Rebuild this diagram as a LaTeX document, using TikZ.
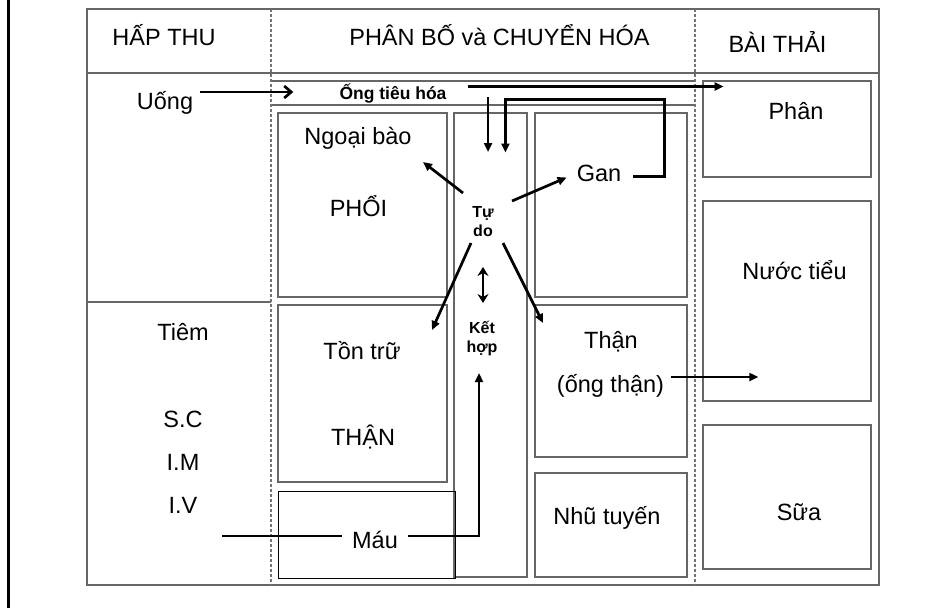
\documentclass[tikz,border=0pt]{standalone}
\usepackage{fontspec}
\setmainfont{Liberation Sans}
\usetikzlibrary{arrows.meta}

\begin{document}
\begin{tikzpicture}[
  x=1pt, y=-1pt,
  box/.style={draw=black!60, line width=1.3pt, inner sep=0pt},
  rule/.style={draw=black!60, line width=1.3pt},
  divider/.style={draw=black!55, line width=1.2pt, dash pattern=on 3pt off 2pt},
  txt/.style={font=\fontsize{23.5}{28}\selectfont, inner sep=0pt, text height=16.8pt, text depth=0pt},
  tag/.style={font=\fontsize{16}{19}\selectfont\bfseries, align=center, inner sep=0pt},
  arr/.style={line width=2.7pt, -{Triangle[length=9pt,width=8pt]}},
  arrv/.style={line width=2.7pt, -{Straight Barb[length=7pt,width=12pt]}},
  arr2/.style={line width=2.7pt, {Stealth[length=9pt,width=11pt,inset=3pt]}-{Stealth[length=9pt,width=11pt,inset=3pt]}},
  ln/.style={line width=2.7pt}
]
  \useasboundingbox (0,0) rectangle (952,608);
  \draw[line width=3pt] (8,0) -- (8,608);

  \node[box, minimum width=792pt, minimum height=576pt] (frame) at (483,297) {};
  \draw[rule] (87,73) -- (879,73);
  \draw[rule] (87,302) -- (271,302);
  \draw[rule] (271,81) -- (695,81);
  \draw[rule] (271,105) -- (695,105);
  \draw[divider] (271,9) -- (271,585);
  \draw[divider] (695,9) -- (695,585);

  \node[box, minimum width=169pt, minimum height=184pt] (phoibox) at (362.5,205) {};
  \node[box, minimum width=73pt, minimum height=464pt] (cot) at (490.5,345) {};
  \node[box, minimum width=152pt, minimum height=184pt] (ganbox) at (611,205) {};
  \node[box, minimum width=169pt, minimum height=177pt] (trubox) at (362.5,393.5) {};
  \node[box, draw=black, line width=1pt, minimum width=177pt, minimum height=87pt] (maubox) at (366.5,534.5) {};
  \node[box, minimum width=152pt, minimum height=152pt] (thanbox) at (611,381) {};
  \node[box, minimum width=152pt, minimum height=104pt] (nhubox) at (611,525) {};
  \node[box, minimum width=168pt, minimum height=96pt] (phanbox) at (787,129) {};
  \node[box, minimum width=168pt, minimum height=200pt] (nuocbox) at (787,301) {};
  \node[box, minimum width=168pt, minimum height=144pt] (suabox) at (787,497) {};

  \node[txt] (hap) at (164,37) {HẤP THU};
  \node[txt] (phanbo) at (499.5,37) {PHÂN BỐ và CHUYỂN HÓA};
  \node[txt] (bai) at (777.5,44) {BÀI THẢI};
  \node[txt] (uong) at (165,101) {Uống};
  \node[tag, font=\fontsize{17.5}{20}\selectfont\bfseries, text height=12.6pt, text depth=0pt] (ong) at (393,93.5) {Ống tiêu hóa};
  \node[txt] (ngoai) at (358,136) {Ngoại bào};
  \node[txt] (phoi) at (358.5,208) {PHỔI};
  \node[tag] (tudo) at (483,222) {Tự\\do};
  \node[txt] (gan) at (599,173.5) {Gan};
  \node[txt] (tiem) at (183,332) {Tiêm};
  \node[txt] (sc) at (183,419) {S.C};
  \node[txt] (im) at (183,462) {I.M};
  \node[txt] (iv) at (183,505) {I.V};
  \node[txt] (tontru) at (362,351.5) {Tồn trữ};
  \node[txt] (thanL) at (363,437) {THẬN};
  \node[tag] (kethop) at (482,339) {Kết\\hợp};
  \node[txt] (than) at (611,340.5) {Thận};
  \node[txt] (ongthan) at (610.5,384) {(ống thận)};
  \node[txt] (mau) at (375,540) {Máu};
  \node[txt] (nhu) at (607,516.5) {Nhũ tuyến};
  \node[txt] (phan) at (796,111.5) {Phân};
  \node[txt] (nuoc) at (794.5,271.5) {Nước tiểu};
  \node[txt] (sua) at (799,512) {Sữa};

  \draw[arrv] ([xshift=7pt,yshift=9pt]uong.east) -- ++(93,0);
  \draw[arr] ([xshift=21pt,yshift=7pt]ong.east) -- ++(256,0);
  \draw[arr] ([shift={(5,-125)}]tudo.center) -- ++(0,55);
  \draw[arr] ([xshift=12pt,yshift=-3pt]gan.east) -- ++(31,0) -- ++(0,-77) -- ++(-159,0) -- ++(0,53);
  \draw[arr] ([shift={(-20,-29)}]tudo.center) -- ++(-40,-31);
  \draw[arr] ([shift={(29,-21)}]tudo.center) -- ([shift={(-10,4)}]gan.west);
  \draw[arr] ([shift={(-12,21)}]tudo.center) -- ++(-39,87);
  \draw[arr] ([shift={(20,21)}]tudo.center) -- ++(40,80);
  \draw[arr2] ([shift={(0,45)}]tudo.center) -- ([shift={(1,-36)}]kethop.center);
  \draw[arr] ([xshift=10pt,yshift=4pt]mau.east) -| ([shift={(-3,34)}]kethop.center);
  \draw[ln] ([xshift=-10pt,yshift=4pt]mau.west) -- ++(-120,0);
  \draw[arr] ([xshift=7pt,yshift=7pt]ongthan.east) -- ++(87,0);
\end{tikzpicture}
\end{document}
